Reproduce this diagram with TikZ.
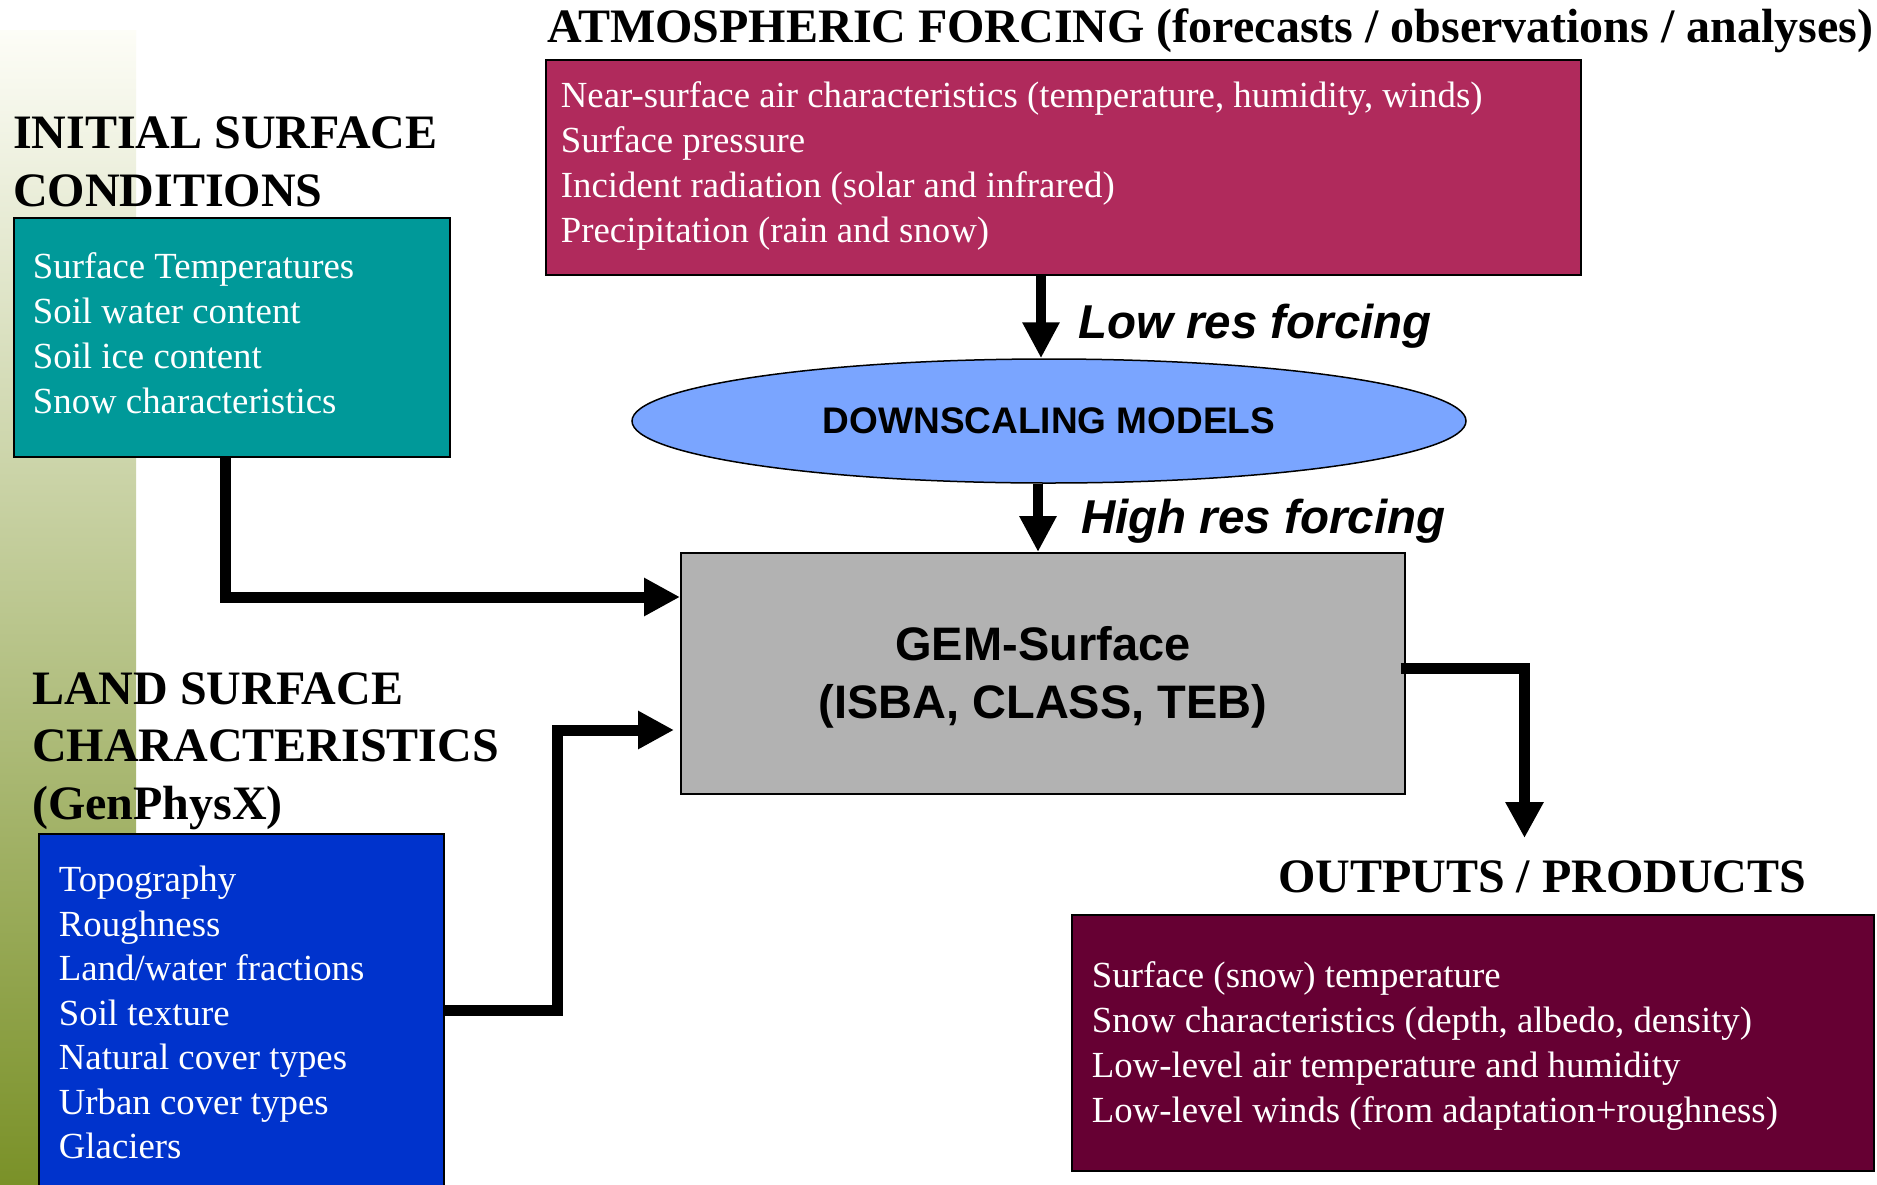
\documentclass[tikz,border=0pt]{standalone}
\usepackage{fontspec}
\setmainfont{Liberation Serif}
\setsansfont{Liberation Sans}
\usetikzlibrary{shapes.geometric,arrows.meta,calc}
\definecolor{tealbox}{RGB}{0,153,153}
\definecolor{crimbox}{RGB}{176,42,92}
\definecolor{dsblue}{RGB}{122,165,255}
\definecolor{gemgray}{RGB}{178,178,178}
\definecolor{lsblue}{RGB}{0,51,204}
\definecolor{outred}{RGB}{102,0,51}
\definecolor{stripbot}{RGB}{122,145,40}
\definecolor{striptop}{RGB}{253,253,247}
\tikzset{
  databox/.style={draw=black, line width=1.8pt, anchor=north west, inner ysep=0pt, text=white},
  heading/.style={anchor=base west, inner sep=0pt, font=\bfseries\fontsize{48}{58}\selectfont},
  flowlabel/.style={anchor=base west, inner sep=0pt, font=\sffamily\bfseries\itshape\fontsize{47.5}{56}\selectfont},
  flow/.style={line width=11pt, line join=miter, -{Triangle[length=36pt,width=36pt]}},
  downflow/.style={line width=10pt, -{Triangle[length=36pt,width=35pt]}},
}
\begin{document}
\begin{tikzpicture}[x=1pt,y=-1pt]
\useasboundingbox (0,0) rectangle (1877,1184);
\fill[white] (0,0) rectangle (1877,1184);
% left gradient strip
\shade[top color=striptop, bottom color=stripbot, draw=none] (0,30) rectangle (136,1184);

% headings
\node[heading] (initT) at (13,148) {\vtop{\hbox{INITIAL SURFACE}\hbox{CONDITIONS}}};
\node[heading, font=\bfseries\fontsize{48}{57.5}\selectfont] (landT) at (32,704) {\vtop{\hbox{LAND SURFACE}\hbox{CHARACTERISTICS}\hbox{(GenPhysX)}}};
\node[heading] (atmT) at (547,42) {ATMOSPHERIC FORCING (forecasts / observations / analyses)};
\node[heading] (outT) at (1278,892) {OUTPUTS / PRODUCTS};

% boxes
\node[databox, fill=tealbox, inner xsep=19pt, text height=61pt, text depth=178pt] (init) at (13,217)
  {\parbox[t]{398pt}{\fontsize{36.8}{45}\selectfont\raggedright Surface Temperatures\\Soil water content\\Soil ice content\\Snow characteristics}};

\node[databox, fill=crimbox, inner xsep=15pt, text height=48pt, text depth=167pt] (atm) at (545,59)
  {\parbox[t]{1005pt}{\fontsize{36.8}{45}\selectfont\raggedright Near-surface air characteristics (temperature, humidity, winds)\\Surface pressure\\Incident radiation (solar and infrared)\\Precipitation (rain and snow)}};

\node[databox, fill=lsblue, inner xsep=20pt, text height=58pt, text depth=320pt] (land) at (38,833)
  {\parbox[t]{365pt}{\fontsize{36.8}{44.5}\selectfont\raggedright Topography\\Roughness\\Land/water fractions\\Soil texture\\Natural cover types\\Urban cover types\\Glaciers}};

\node[databox, fill=outred, inner xsep=20pt, text height=73pt, text depth=183pt] (outp) at (1071,914)
  {\parbox[t]{762pt}{\fontsize{36.8}{45}\selectfont\raggedright Surface (snow) temperature\\Snow characteristics (depth, albedo, density)\\Low-level air temperature and humidity\\Low-level winds (from adaptation+roughness)}};

\node[draw=black, line width=1.8pt, fill=gemgray, anchor=north west, inner sep=0pt, text height=108pt, text depth=133pt,
      font=\sffamily\bfseries\fontsize{47}{58}\selectfont] (gem) at (680,552)
  {\parbox[t]{724pt}{\centering GEM-Surface\\(ISBA, CLASS, TEB)}};

\node[ellipse, draw=black, line width=1.5pt, fill=dsblue, minimum width=834pt, minimum height=124pt, inner sep=0pt,
      font=\sffamily\bfseries\fontsize{37}{44}\selectfont] (down) at (1049,421) {DOWNSCALING MODELS};

% flow labels
\node[flowlabel] (lowres) at (1078,338) {Low res forcing};
\node[flowlabel] (highres) at (1081,533) {High res forcing};

% connectors
\coordinate (lowtop) at ($(atm.south west)+(496,0)$);
\draw[downflow] (lowtop) -- (lowtop |- down.north);
\coordinate (hightop) at ($(down.south)+(-11,0)$);
\draw[downflow] (hightop) -- (hightop |- gem.north);

\draw[flow] ($(init.south west)+(212,0)$) |- ($(gem.north west)+(0,45)$);
\draw[flow, shorten >=6pt] ($(land.north west)+(405,177)$) -- ++(114.5,0) |- ($(gem.north west)+(0,178)$);
\coordinate (outtip) at (1524.5,838);
\draw[flow] ($(gem.north east)+(-5,116)$) -| (outtip);
\end{tikzpicture}
\end{document}
